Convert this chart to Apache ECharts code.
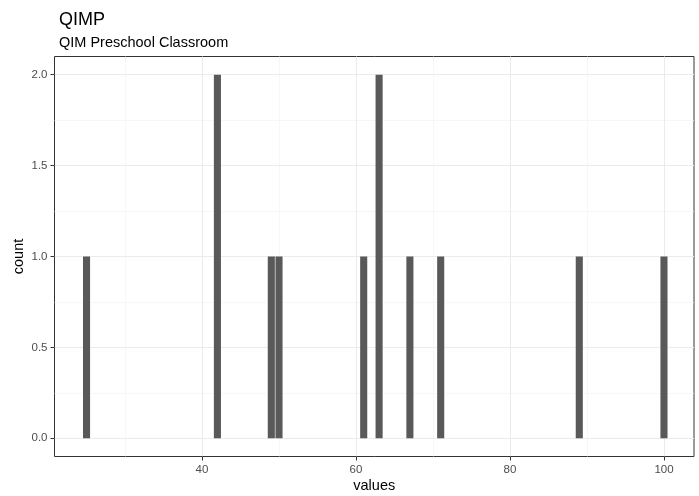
<!DOCTYPE html>
<html>
<head>
<meta charset="utf-8">
<script src="https://cdn.jsdelivr.net/npm/echarts@6/dist/echarts.min.js"></script>
<style>
html,body{margin:0;padding:0;background:#fff;}
#chart{width:699px;height:496px;}
</style>
</head>
<body>
<div id="chart"></div>
<script>
// Data
const binCenters = [25, 42, 49, 50, 61, 63, 67, 71, 89, 100];
const binCounts  = [1, 2, 1, 1, 1, 2, 1, 1, 1, 1];
const binWidth = 0.92;
const xMajorTicks = [40, 60, 80, 100];
const xMinorTicks = [30, 50, 70, 90];
const yMajorTicks = [0, 0.5, 1, 1.5, 2];
const yMinorTicks = [0.25, 0.75, 1.25, 1.75];
const xRange = [20.84, 103.9];
const yRange = [-0.1, 2.1];

const FONT = 'Liberation Sans, Arial, Helvetica, sans-serif';
const chart = echarts.init(document.getElementById('chart'), null, {renderer: 'canvas'});

const barData = binCenters.map((c, i) => [c, binCounts[i]]);

const option = {
  backgroundColor: '#fff',
  animation: false,
  title: [
    {text: 'QIMP', left: 54, top: 6, textStyle: {fontSize: 18, fontWeight: 'normal', color: '#000', fontFamily: FONT}},
    {text: 'QIM Preschool Classroom', left: 54, top: 30, textStyle: {fontSize: 14.5, fontWeight: 'normal', color: '#000', fontFamily: FONT}}
  ],
  grid: {left: 54.5, right: 5, top: 56.5, bottom: 39.5, show: true, borderColor: '#333333', borderWidth: 1,
    backgroundColor: 'transparent', containLabel: false, outerBoundsMode: 'none'},
  xAxis: [
    {
      type: 'value', gridIndex: 0, min: xRange[0], max: xRange[1], position: 'bottom',
      axisLine: {show: false, onZero: false}, axisTick: {show: false, customValues: xMinorTicks},
      axisLabel: {show: false},
      splitLine: {show: true, lineStyle: {color: '#F3F3F3', width: 0.7}}
    },
    {
      type: 'value', gridIndex: 0, min: xRange[0], max: xRange[1], position: 'bottom',
      axisLine: {show: false, onZero: false},
      axisTick: {show: true, length: 4, customValues: xMajorTicks, lineStyle: {color: '#333333', width: 1}},
      axisLabel: {show: true, customValues: xMajorTicks, margin: 7, color: '#4D4D4D', fontSize: 11.5, fontFamily: FONT},
      splitLine: {show: true, lineStyle: {color: '#EBEBEB', width: 1}},
      name: 'values', nameLocation: 'middle', nameGap: 22, nameMoveOverlap: false,
      nameTextStyle: {color: '#000', fontSize: 14.5, fontFamily: FONT}
    }
  ],
  yAxis: [
    {
      type: 'value', gridIndex: 0, min: yRange[0], max: yRange[1], position: 'left',
      axisLine: {show: false, onZero: false}, axisTick: {show: false, customValues: yMinorTicks},
      axisLabel: {show: false},
      splitLine: {show: true, lineStyle: {color: '#F3F3F3', width: 0.7}}
    },
    {
      type: 'value', gridIndex: 0, min: yRange[0], max: yRange[1], position: 'left',
      axisLine: {show: false, onZero: false},
      axisTick: {show: true, length: 4, customValues: yMajorTicks, lineStyle: {color: '#333333', width: 1}},
      axisLabel: {show: true, customValues: yMajorTicks, margin: 7, color: '#4D4D4D', fontSize: 11.5, fontFamily: FONT,
        formatter: v => v.toFixed(1)},
      splitLine: {show: true, lineStyle: {color: '#EBEBEB', width: 1}},
      name: 'count', nameLocation: 'middle', nameGap: 28, nameRotate: 90, nameMoveOverlap: false,
      nameTextStyle: {color: '#000', fontSize: 14.5, fontFamily: FONT}
    }
  ],
  series: [{
    type: 'custom',
    xAxisIndex: 1, yAxisIndex: 1,
    data: barData,
    renderItem: function (params, api) {
      const x = api.value(0), y = api.value(1);
      const p0 = api.coord([x - binWidth / 2, y]);
      const p1 = api.coord([x + binWidth / 2, 0]);
      return {
        type: 'rect',
        shape: {x: p0[0], y: p0[1], width: p1[0] - p0[0], height: p1[1] - p0[1]},
        style: {fill: '#595959'}
      };
    },
    encode: {x: 0, y: 1}
  }]
};
chart.setOption(option);
</script>
</body>
</html>
